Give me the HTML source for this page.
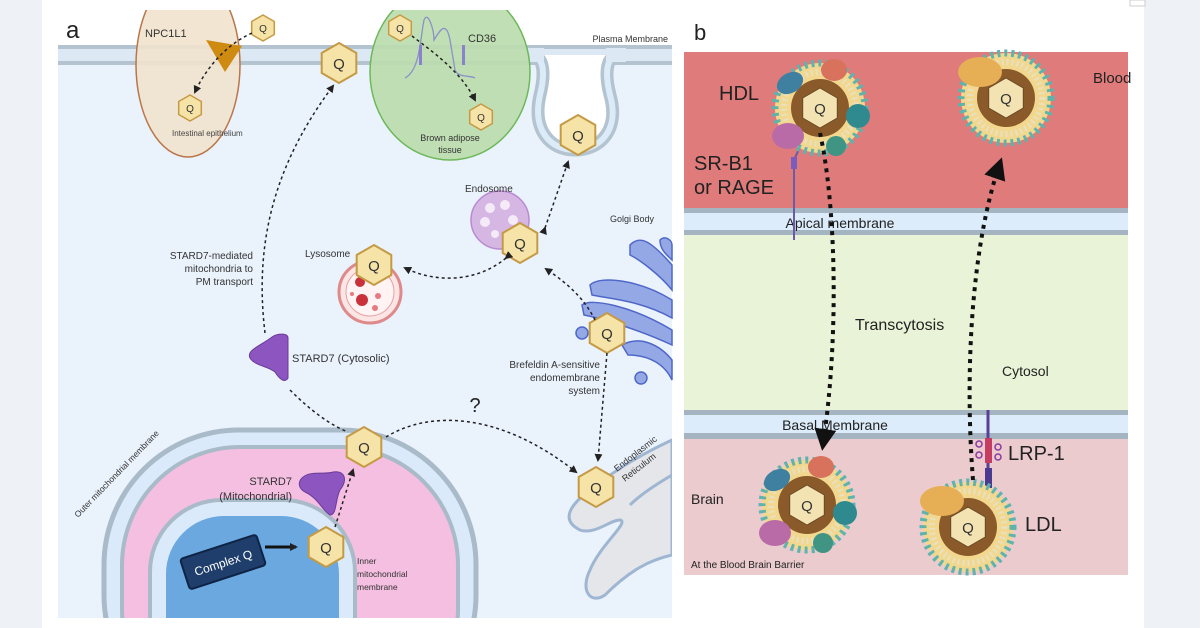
<!DOCTYPE html>
<html><head><meta charset="utf-8"><style>
html,body{margin:0;padding:0;width:1200px;height:628px;overflow:hidden;background:#eef2f6;}
svg{display:block;font-family:"Liberation Sans",sans-serif;}
</style></head><body>
<svg width="1200" height="628" viewBox="0 0 1200 628" xmlns="http://www.w3.org/2000/svg">
<defs>
<clipPath id="pa"><rect x="58" y="10" width="614" height="608"/></clipPath>
<marker id="ah" markerWidth="8" markerHeight="8" refX="6" refY="4" orient="auto" markerUnits="userSpaceOnUse"><path d="M0,0 L8,4 L0,8 z" fill="#222"/></marker>
<marker id="ahb" markerWidth="22" markerHeight="22" refX="16" refY="11" orient="auto" markerUnits="userSpaceOnUse"><path d="M0,0 L22,11 L0,22 z" fill="#111"/></marker>
<g id="hq"><polygon points="0,-20 17.3,-10 17.3,10 0,20 -17.3,10 -17.3,-10" fill="#f6e3a8" stroke="#c49a45" stroke-width="2"/><text x="0" y="6" text-anchor="middle" font-size="15" fill="#333">Q</text></g>
<g id="hs"><polygon points="0,-13 11.3,-6.5 11.3,6.5 0,13 -11.3,6.5 -11.3,-6.5" fill="#f6e3a8" stroke="#c49a45" stroke-width="1.5"/><text x="0" y="4" text-anchor="middle" font-size="10" fill="#333">Q</text></g>
<g id="lp"><circle r="45" fill="#f2d88e"/><circle r="45" fill="none" stroke="#5fb3ad" stroke-width="7" stroke-dasharray="3 4"/><circle r="36" fill="none" stroke="#e9e0c0" stroke-width="6" stroke-dasharray="2 3"/><circle r="29" fill="#8b5a2b"/><polygon points="0,-20 17.3,-10 17.3,10 0,20 -17.3,10 -17.3,-10" fill="#f3e3b3" stroke="#6b4a22" stroke-width="1"/><text x="0" y="6" text-anchor="middle" font-size="15" fill="#333">Q</text></g>
</defs>
<rect x="0" y="0" width="1200" height="628" fill="#eef2f6"/>
<rect x="42" y="0" width="1102" height="628" fill="#fff"/>
<rect x="1130" y="0" width="15" height="6" fill="#fff" stroke="#ccc"/>

<g clip-path="url(#pa)">
<rect x="58" y="55" width="614" height="563" fill="#eaf2fc"/>
<!-- membrane -->
<rect x="58" y="46" width="614" height="18" fill="#dce9f5"/>
<rect x="58" y="45" width="614" height="4" fill="#b3c3d0"/>
<rect x="58" y="61" width="614" height="4" fill="#b3c3d0"/>
<!-- invagination -->
<path d="M530,55 C545,55 545,75 540,95 C532,130 550,150 575,150 C600,150 620,130 610,95 C605,75 605,55 620,55" fill="#fff" stroke="#b3c3d0" stroke-width="13"/>
<path d="M530,55 C545,55 545,75 540,95 C532,130 550,150 575,150 C600,150 620,130 610,95 C605,75 605,55 620,55" fill="none" stroke="#dcebf8" stroke-width="6"/>
<rect x="528" y="48" width="16" height="14" fill="#dce9f5"/><rect x="606" y="48" width="20" height="14" fill="#dce9f5"/>
<!-- ovals -->
<ellipse cx="188" cy="65" rx="52" ry="92" fill="#f1e2cd" fill-opacity="0.9" stroke="#b9764a" stroke-width="1.5"/>
<ellipse cx="450" cy="72" rx="80" ry="88" fill="#bcdcae" fill-opacity="0.92" stroke="#6db85a" stroke-width="1.5"/>

<!-- Mitochondria -->
<rect x="104" y="430" width="372" height="300" rx="135" fill="#dbeafa" stroke="#a9bac8" stroke-width="5"/>
<rect x="122" y="447" width="336" height="280" rx="118" fill="#f4bfe0" stroke="#a9bac8" stroke-width="4"/>
<rect x="150" y="500" width="205" height="200" rx="72" fill="#dbeafa" stroke="#a9bac8" stroke-width="4"/>
<rect x="166" y="516" width="173" height="180" rx="58" fill="#6aa8df"/>
<!-- ER -->
<path d="M672,440 C640,455 615,470 590,490 C570,505 560,520 580,530 C595,535 610,520 620,520 C630,522 600,545 590,570 C580,590 590,605 605,595 C630,570 650,560 672,555 Z" fill="#e4e6ea" stroke="#9fb6d3" stroke-width="3"/>
<path d="M672,475 C655,485 640,495 630,505" fill="none" stroke="#9fb6d3" stroke-width="3"/>
</g>
<rect x="42" y="0" width="640" height="10" fill="#fff"/>

<text x="66" y="38" font-size="24" fill="#222">a</text>
<text x="668" y="42" font-size="9" text-anchor="end" fill="#333">Plasma Membrane</text>
<text x="145" y="37" font-size="11" fill="#333">NPC1L1</text>
<polygon points="206,40 242,46 225,72" fill="#cf8a12"/>
<use href="#hs" x="263" y="28"/>
<use href="#hs" x="190" y="108"/>
<path d="M252,33 C225,45 205,70 195,92" fill="none" stroke="#222" stroke-width="1.5" stroke-dasharray="3 3" marker-end="url(#ah)"/>
<text x="172" y="136" font-size="8" fill="#444">Intestinal epithelium</text>
<use href="#hs" x="400" y="28"/>
<path d="M405,78 C420,70 420,40 424,20 C428,10 434,30 434,40 C440,30 446,20 450,40 L455,70 C458,78 470,75 475,78" fill="none" stroke="#8a92c8" stroke-width="1.3"/>
<rect x="419" y="45" width="3" height="20" fill="#8a82cc"/><rect x="462" y="45" width="3" height="20" fill="#8a82cc"/>
<text x="468" y="42" font-size="11" fill="#333">CD36</text>
<use href="#hs" x="481" y="117"/>
<path d="M412,36 C430,50 460,70 475,100" fill="none" stroke="#222" stroke-width="1.5" stroke-dasharray="3 3" marker-end="url(#ah)"/>
<text x="450" y="141" font-size="9" text-anchor="middle" fill="#333">Brown adipose</text>
<text x="450" y="153" font-size="9" text-anchor="middle" fill="#333">tissue</text>

<use href="#hq" x="339" y="63"/>
<use href="#hq" x="578" y="135"/>

<!-- Endosome -->
<circle cx="500" cy="220" r="29" fill="#d6b7e4" stroke="#b98bd0" stroke-width="1.5"/>
<circle cx="490" cy="208" r="5" fill="#f4eaf8"/><circle cx="505" cy="205" r="5" fill="#f4eaf8"/><circle cx="485" cy="222" r="5" fill="#f4eaf8"/><circle cx="513" cy="220" r="5" fill="#f4eaf8"/><circle cx="495" cy="234" r="4" fill="#f4eaf8"/>
<text x="465" y="192" font-size="10" fill="#333">Endosome</text>
<use href="#hq" x="520" y="243"/>
<!-- Lysosome -->
<circle cx="370" cy="292" r="31" fill="#fbe5e5" stroke="#de8a8a" stroke-width="3"/>
<circle cx="370" cy="292" r="24" fill="#fff3f3" stroke="#e6a3a3" stroke-width="1"/>
<circle cx="360" cy="282" r="5" fill="#c9323a"/><circle cx="362" cy="300" r="6" fill="#c9323a"/><circle cx="378" cy="296" r="3" fill="#e67a80"/><circle cx="375" cy="308" r="3" fill="#e67a80"/><circle cx="352" cy="294" r="2" fill="#e67a80"/>
<text x="305" y="257" font-size="10" fill="#333">Lysosome</text>
<use href="#hq" x="374" y="265"/>
<path d="M506,258 C480,280 440,285 405,268" fill="none" stroke="#222" stroke-width="1.5" stroke-dasharray="3 3" marker-start="url(#ah)" marker-end="url(#ah)"/>
<path d="M545,228 L568,162" fill="none" stroke="#222" stroke-width="1.5" stroke-dasharray="3 3" marker-start="url(#ah)" marker-end="url(#ah)"/>
<!-- Golgi -->
<text x="610" y="222" font-size="9" fill="#333">Golgi Body</text>
<g fill="#95a8e6" stroke="#4f67c8" stroke-width="1.5">
<path d="M630,245 C640,235 650,240 672,265 L672,290 C660,275 640,260 630,255 Z"/>
<path d="M660,240 C665,235 672,240 672,245 L672,260 C667,255 660,250 660,240Z"/>
<path d="M590,285 C600,275 640,280 672,300 L672,318 C640,300 605,298 592,295 Z"/>
<path d="M582,305 C590,298 630,305 672,330 L672,345 C640,330 600,318 584,315 Z"/>
<path d="M622,345 C640,335 660,345 672,360 L672,380 C665,365 650,355 628,355 Z"/>
<circle cx="582" cy="333" r="6"/><circle cx="641" cy="378" r="6"/>
</g>
<use href="#hq" x="607" y="333"/>
<path d="M595,320 C585,300 570,285 546,269" fill="none" stroke="#222" stroke-width="1.5" stroke-dasharray="3 3" marker-end="url(#ah)"/>
<text x="600" y="368" font-size="10" text-anchor="end" fill="#333">Brefeldin A-sensitive</text>
<text x="600" y="381" font-size="10" text-anchor="end" fill="#333">endomembrane</text>
<text x="600" y="394" font-size="10" text-anchor="end" fill="#333">system</text>
<path d="M607,353 L598,460" fill="none" stroke="#222" stroke-width="1.5" stroke-dasharray="3 3" marker-end="url(#ah)"/>
<text transform="translate(617,472) rotate(-38)" font-size="9" fill="#333">Endoplasmic</text>
<text transform="translate(625,482) rotate(-38)" font-size="9" fill="#333">Reticulum</text>
<use href="#hq" x="596" y="487"/>

<text transform="translate(78,518) rotate(-46)" font-size="8.5" fill="#333">Outer mitochondrial membrane</text>
<g transform="translate(223,562) rotate(-18)"><rect x="-40" y="-16" width="80" height="32" rx="3" fill="#1f3e6b" stroke="#0f2445" stroke-width="2"/><text x="0" y="5" text-anchor="middle" font-size="12" fill="#fff">Complex Q</text></g>
<path d="M265,547 L296,547" stroke="#111" stroke-width="3" marker-end="url(#ah)"/>
<use href="#hq" x="326" y="547"/>
<use href="#hq" x="364" y="447"/>
<path d="M335,527 L353,470" fill="none" stroke="#222" stroke-width="1.5" stroke-dasharray="3 3" marker-end="url(#ah)"/>
<text x="292" y="485" font-size="11" text-anchor="end" fill="#333">STARD7</text>
<text x="292" y="500" font-size="11" text-anchor="end" fill="#333">(Mitochondrial)</text>
<path d="M302,478 C310,470 325,475 333,472 C345,470 348,480 340,490 C335,500 337,515 330,515 C322,510 318,498 305,492 C298,488 298,482 302,478Z" fill="#8d55c0" stroke="#6a3c98"/>
<text x="357" y="564" font-size="8.5" fill="#333">Inner</text>
<text x="357" y="577" font-size="8.5" fill="#333">mitochondrial</text>
<text x="357" y="590" font-size="8.5" fill="#333">membrane</text>
<path d="M272,337 C278,333 288,333 288,338 L288,378 C285,383 280,380 275,372 C268,366 255,366 250,358 C246,350 262,345 272,337Z" fill="#8d55c0" stroke="#6a3c98"/>
<text x="292" y="362" font-size="11" fill="#333">STARD7 (Cytosolic)</text>
<path d="M290,390 C310,410 330,425 348,432" fill="none" stroke="#222" stroke-width="1.5" stroke-dasharray="3 3"/>
<path d="M265,333 C255,250 270,170 333,86" fill="none" stroke="#222" stroke-width="1.5" stroke-dasharray="3 3" marker-end="url(#ah)"/>
<text x="253" y="259" font-size="10" text-anchor="end" fill="#333">STARD7-mediated</text>
<text x="253" y="272" font-size="10" text-anchor="end" fill="#333">mitochondria to</text>
<text x="253" y="285" font-size="10" text-anchor="end" fill="#333">PM transport</text>
<path d="M386,437 C430,410 500,412 576,472" fill="none" stroke="#222" stroke-width="1.5" stroke-dasharray="3 3" marker-end="url(#ah)"/>
<text x="475" y="412" font-size="20" text-anchor="middle" fill="#222">?</text>

<!-- Panel b -->
<text x="694" y="40" font-size="22" fill="#222">b</text>
<rect x="684" y="52" width="444" height="156" fill="#df7b7b"/>
<rect x="684" y="208" width="444" height="28" fill="#dcecfa"/>
<rect x="684" y="208" width="444" height="5" fill="#a4b4c0"/>
<rect x="684" y="230" width="444" height="5" fill="#a4b4c0"/>
<rect x="684" y="235" width="444" height="175" fill="#e8f3d7"/>
<rect x="684" y="410" width="444" height="30" fill="#dcecfa"/>
<rect x="684" y="410" width="444" height="5" fill="#a4b4c0"/>
<rect x="684" y="433" width="444" height="6" fill="#a4b4c0"/>
<rect x="684" y="439" width="444" height="136" fill="#ebcbcd"/>
<text x="840" y="228" font-size="14" text-anchor="middle" fill="#222">Apical membrane</text>
<text x="835" y="430" font-size="14" text-anchor="middle" fill="#222">Basal Membrane</text>
<text x="719" y="100" font-size="20" fill="#222">HDL</text>
<text x="694" y="170" font-size="20" fill="#222">SR-B1</text>
<text x="694" y="194" font-size="20" fill="#222">or RAGE</text>
<text x="1093" y="83" font-size="15" fill="#222">Blood</text>
<text x="855" y="330" font-size="16" fill="#222">Transcytosis</text>
<text x="1002" y="376" font-size="14" fill="#222">Cytosol</text>
<text x="691" y="504" font-size="14" fill="#222">Brain</text>
<text x="691" y="568" font-size="10" fill="#222">At the Blood Brain Barrier</text>
<text x="1008" y="460" font-size="20" fill="#222">LRP-1</text>
<text x="1025" y="531" font-size="20" fill="#222">LDL</text>
<path d="M815,133 L800,147 L794,160 L794,240" fill="none" stroke="#6a5aa8" stroke-width="2"/>
<path d="M815,133 L803,145" stroke="#9a7ae8" stroke-width="5"/>
<rect x="791" y="157" width="6" height="12" fill="#7a5cbf"/>
<line x1="988" y1="410" x2="988" y2="490" stroke="#5a3f98" stroke-width="3"/>
<rect x="985" y="438" width="7" height="25" fill="#c43d62"/>
<circle cx="979" cy="444" r="3" fill="none" stroke="#8a3aa0" stroke-width="1.5"/><circle cx="979" cy="455" r="3" fill="none" stroke="#8a3aa0" stroke-width="1.5"/><circle cx="998" cy="447" r="3" fill="none" stroke="#8a3aa0" stroke-width="1.5"/><circle cx="998" cy="457" r="3" fill="none" stroke="#8a3aa0" stroke-width="1.5"/>
<rect x="985" y="468" width="7" height="20" fill="#4a3a90"/>
<g transform="translate(820,108)">
<use href="#lp"/>
<ellipse cx="-30" cy="-25" rx="14" ry="10" fill="#3f7fa0" transform="rotate(-30 -30 -25)"/>
<ellipse cx="14" cy="-38" rx="13" ry="11" fill="#d9725c"/>
<ellipse cx="-32" cy="28" rx="16" ry="13" fill="#b96ba8"/>
<ellipse cx="38" cy="8" rx="12" ry="12" fill="#2f8a90"/>
<ellipse cx="16" cy="38" rx="10" ry="10" fill="#3f9484"/>
</g>
<g transform="translate(1006,98)"><use href="#lp"/><ellipse cx="-26" cy="-26" rx="22" ry="15" fill="#e6ae55"/></g>
<g transform="translate(807,505)">
<use href="#lp"/>
<ellipse cx="-30" cy="-25" rx="14" ry="10" fill="#3f7fa0" transform="rotate(-30 -30 -25)"/>
<ellipse cx="14" cy="-38" rx="13" ry="11" fill="#d9725c"/>
<ellipse cx="-32" cy="28" rx="16" ry="13" fill="#b96ba8"/>
<ellipse cx="38" cy="8" rx="12" ry="12" fill="#2f8a90"/>
<ellipse cx="16" cy="38" rx="10" ry="10" fill="#3f9484"/>
</g>
<g transform="translate(968,527)"><use href="#lp"/><ellipse cx="-26" cy="-26" rx="22" ry="15" fill="#e6ae55"/></g>
<path d="M820,133 C835,200 840,330 823,445" fill="none" stroke="#111" stroke-width="4" stroke-dasharray="4 5" marker-end="url(#ahb)"/>
<path d="M973,480 C965,380 970,250 1000,163" fill="none" stroke="#111" stroke-width="4" stroke-dasharray="4 5" marker-end="url(#ahb)"/>
</svg>
</body></html>
